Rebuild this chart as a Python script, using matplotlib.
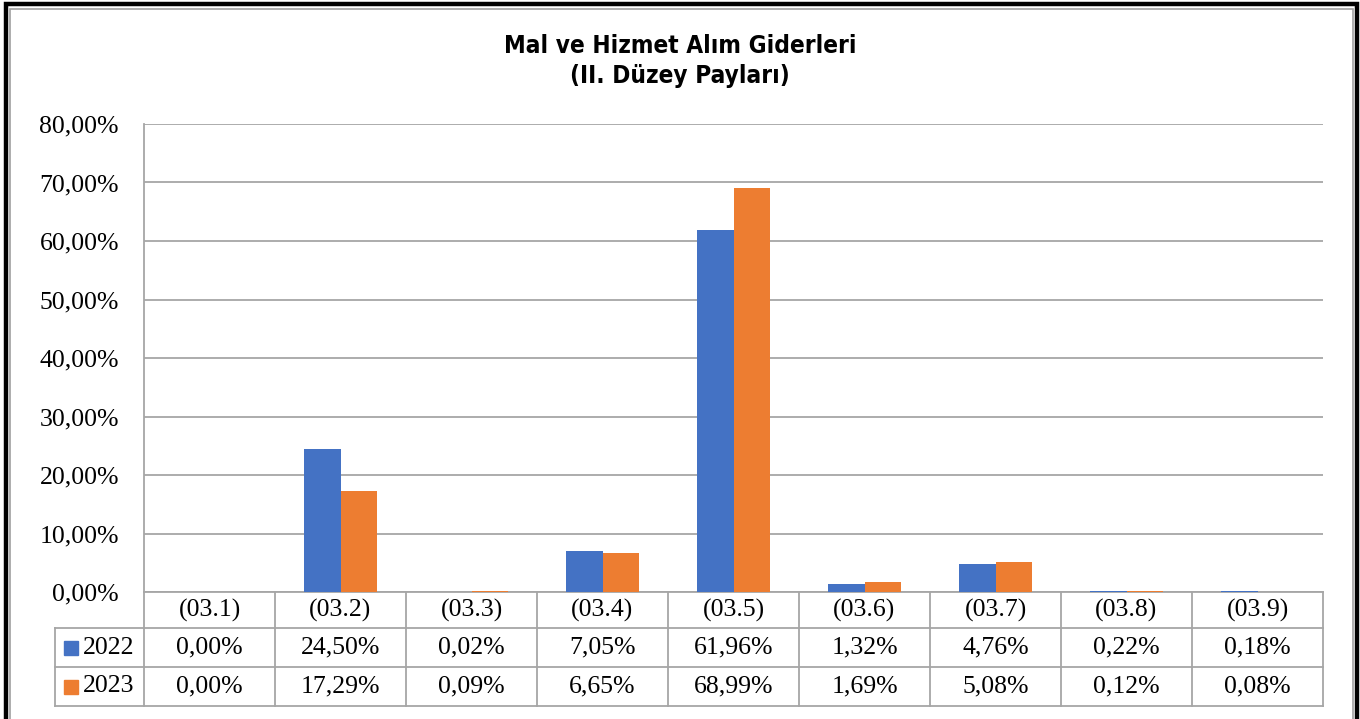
import matplotlib
matplotlib.use("Agg")
import matplotlib.pyplot as plt
from matplotlib.patches import Rectangle
from matplotlib.transforms import blended_transform_factory
from matplotlib.ticker import FuncFormatter

categories = ["(03.1)", "(03.2)", "(03.3)", "(03.4)", "(03.5)", "(03.6)", "(03.7)", "(03.8)", "(03.9)"]
years = ["2022", "2023"]
share_2022 = [0.00, 24.50, 0.02, 7.05, 61.96, 1.32, 4.76, 0.22, 0.18]
share_2023 = [0.00, 17.29, 0.09, 6.65, 68.99, 1.69, 5.08, 0.12, 0.08]
colors = ["#4472C4", "#ED7D31"]

W, H = 1360, 719
SERIF = "Liberation Serif"
FS = 18.5
GRID = "#a6a6a6"


def fx(x):
    return x / W


def fy(y):
    return 1 - y / H


def pct(v):
    return f"{v:.2f}%".replace(".", ",")


fig = plt.figure(figsize=(W / 100, H / 100), dpi=100)

# double frame round the chart
fig.add_artist(Rectangle((fx(5.5), fy(730)), fx(1356.5) - fx(5.5), fy(4) - fy(730),
                         transform=fig.transFigure, fill=False, ec="black", lw=3.2))
fig.add_artist(Rectangle((fx(10), fy(730)), fx(1352.5) - fx(10), fy(8.5) - fy(730),
                         transform=fig.transFigure, fill=False, ec="#a0a0a0", lw=1.2))

title_kw = dict(ha="center", va="center", fontsize=17.5, fontweight="heavy",
                family="DejaVu Sans", fontstretch="condensed")
fig.text(0.5, fy(46), "Mal ve Hizmet Alım Giderleri", **title_kw)
fig.text(0.5, fy(76), "(II. Düzey Payları)", **title_kw)

ax = fig.add_axes([fx(144), fy(592), fx(1323) - fx(144), fy(124) - fy(592)])
x = list(range(len(categories)))
bw = 0.282
ax.bar([i - bw / 2 for i in x], share_2022, width=bw, color=colors[0], zorder=3)
ax.bar([i + bw / 2 for i in x], share_2023, width=bw, color=colors[1], zorder=3)

ax.set_xlim(-0.5, len(categories) - 0.5)
ax.set_ylim(0, 80)
ax.set_yticks(range(0, 81, 10))
ax.yaxis.set_major_formatter(FuncFormatter(lambda v, _: pct(v)))
ax.tick_params(axis="y", length=0, pad=18, labelsize=FS)
for lab in ax.get_yticklabels():
    lab.set_family(SERIF)
ax.set_xticks([])
ax.grid(axis="y", color=GRID, lw=1.3, zorder=0)
for side in ["top", "right", "bottom"]:
    ax.spines[side].set_visible(False)
ax.spines["left"].set_color(GRID)
ax.spines["left"].set_linewidth(1.3)

# data table under the axes
tr = blended_transform_factory(ax.transData, ax.transAxes)
ppx = 1 / 468.0
row_edges = [0, -36 * ppx, -75 * ppx, -114 * ppx]
left_edge = -0.5 - 89 / 131.0
n = len(categories)
line_kw = dict(transform=tr, color=GRID, lw=1.3, clip_on=False)
ax.plot([-0.5, n - 0.5], [row_edges[0]] * 2, **line_kw)
for r in row_edges[1:]:
    ax.plot([left_edge, n - 0.5], [r, r], **line_kw)
for c in range(n + 1):
    ax.plot([c - 0.5, c - 0.5], [row_edges[0], row_edges[3]], **line_kw)
ax.plot([left_edge, left_edge], [row_edges[1], row_edges[3]], **line_kw)

txt_kw = dict(transform=tr, ha="center", va="center", fontsize=FS, family=SERIF, clip_on=False)
for i, cat in enumerate(categories):
    ax.text(i, (row_edges[0] + row_edges[1]) / 2, cat, **txt_kw)
for r, (year, vals, col) in enumerate(zip(years, [share_2022, share_2023], colors)):
    yc = (row_edges[r + 1] + row_edges[r + 2]) / 2
    for i, v in enumerate(vals):
        ax.text(i, yc, pct(v), **txt_kw)
    ax.add_patch(Rectangle((left_edge + 9 / 131.0, yc - 7 * ppx), 14 / 131.0, 14 * ppx,
                           transform=tr, color=col, clip_on=False))
    ax.text(left_edge + 28 / 131.0, yc, year, transform=tr, ha="left", va="center",
            fontsize=FS, family=SERIF, clip_on=False)

fig.savefig("out.png", dpi=100)
